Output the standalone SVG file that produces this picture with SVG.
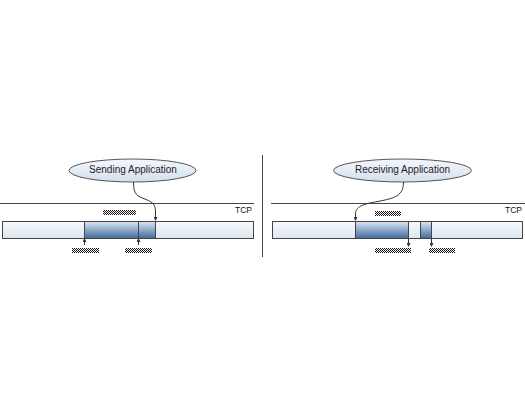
<svg xmlns="http://www.w3.org/2000/svg" width="525" height="414" viewBox="0 0 525 414">
<style>
.lbl{font-family:"Liberation Sans",Arial,sans-serif;font-size:10px;fill:#222;text-anchor:middle}
.tcp{font-family:"Liberation Sans",Arial,sans-serif;font-size:8.5px;fill:#111;text-anchor:end}
.bar{fill:url(#gBar);stroke:#444;stroke-width:1}
.seg{fill:url(#gSeg);stroke:#444;stroke-width:1}
.app{fill:url(#gApp);stroke:#555;stroke-width:1}
.line{stroke:#444;stroke-width:1;fill:none}
.tick{stroke:#333;stroke-width:1;fill:none;marker-end:url(#ah)}
.hatch{fill:url(#chk)}
</style>
<defs>
<linearGradient id="gBar" x1="0" y1="0" x2="0" y2="1"><stop offset="0" stop-color="#f8fafc"/><stop offset="1" stop-color="#dbe6f0"/></linearGradient>
<linearGradient id="gSeg" x1="0" y1="0" x2="0" y2="1"><stop offset="0" stop-color="#dce6f1"/><stop offset="1" stop-color="#3f6b9e"/></linearGradient>
<linearGradient id="gApp" x1="0" y1="0" x2="0" y2="1"><stop offset="0" stop-color="#f4f7fb"/><stop offset="1" stop-color="#d4e0ed"/></linearGradient>
<pattern id="chk" width="2" height="2" patternUnits="userSpaceOnUse"><rect width="2" height="2" fill="#fff"/><rect width="1" height="1" fill="#111"/><rect x="1" y="1" width="1" height="1" fill="#111"/></pattern>
<marker id="ah" markerWidth="4" markerHeight="4" refX="2" refY="2" orient="auto" markerUnits="userSpaceOnUse"><path d="M0,0 L4,2 L0,4 z" fill="#333"/></marker>
</defs>
<line class="line" x1="262.5" y1="155" x2="262.5" y2="257"/>
<g id="left-panel">
<line class="line" x1="0" y1="203.5" x2="254" y2="203.5"/>
<text class="tcp" x="252" y="213">TCP</text>
<g id="send-buffer"><rect class="bar" x="2.5" y="221.5" width="251" height="17"/></g>
<g id="send-seg1"><rect class="seg" x="84.5" y="221.5" width="54" height="17"/></g>
<g id="send-seg2"><rect class="seg" x="138.5" y="221.5" width="17" height="17"/></g>
<rect class="hatch" x="103" y="210" width="33" height="5"/>
<rect class="hatch" x="72" y="248" width="27" height="5"/>
<rect class="hatch" x="125" y="248" width="27" height="5"/>
</g>
<g id="sending-app"><ellipse class="app" cx="132.5" cy="170.5" rx="63.5" ry="11.5"/><text class="lbl" x="133" y="173">Sending Application</text></g>
<g id="right-panel">
<line class="line" x1="271" y1="203.5" x2="525" y2="203.5"/>
<text class="tcp" x="522" y="213">TCP</text>
<g id="recv-buffer"><rect class="bar" x="272.5" y="221.5" width="250" height="17"/></g>
<g id="recv-seg1"><rect class="seg" x="355.5" y="221.5" width="53" height="17"/></g>
<g id="recv-seg2"><rect class="seg" x="420.5" y="221.5" width="11" height="17"/></g>
<rect class="hatch" x="375" y="211" width="26" height="5"/>
<rect class="hatch" x="375" y="248" width="36" height="5"/>
<rect class="hatch" x="429" y="248" width="26" height="5"/>
</g>
<g id="receiving-app"><ellipse class="app" cx="402.5" cy="170.5" rx="69" ry="11.5"/><text class="lbl" x="402.5" y="173">Receiving Application</text></g>
<g id="connectors">
<path class="tick" d="M133.5,182 C133.5,195 137,196 146,199.5 C153,202 155.5,205 155.5,212 L155.5,219"/>
<path class="tick" d="M403.5,182 C403.5,196 395,198 378,201.5 C362,204 355.5,207 355.5,214 L355.5,219"/>
<path class="tick" d="M84.5,245 L84.5,240"/>
<path class="tick" d="M138.5,245 L138.5,240"/>
<path class="tick" d="M408.5,239 L408.5,245"/>
<path class="tick" d="M431.5,239 L431.5,245"/>
</g>
</svg>
